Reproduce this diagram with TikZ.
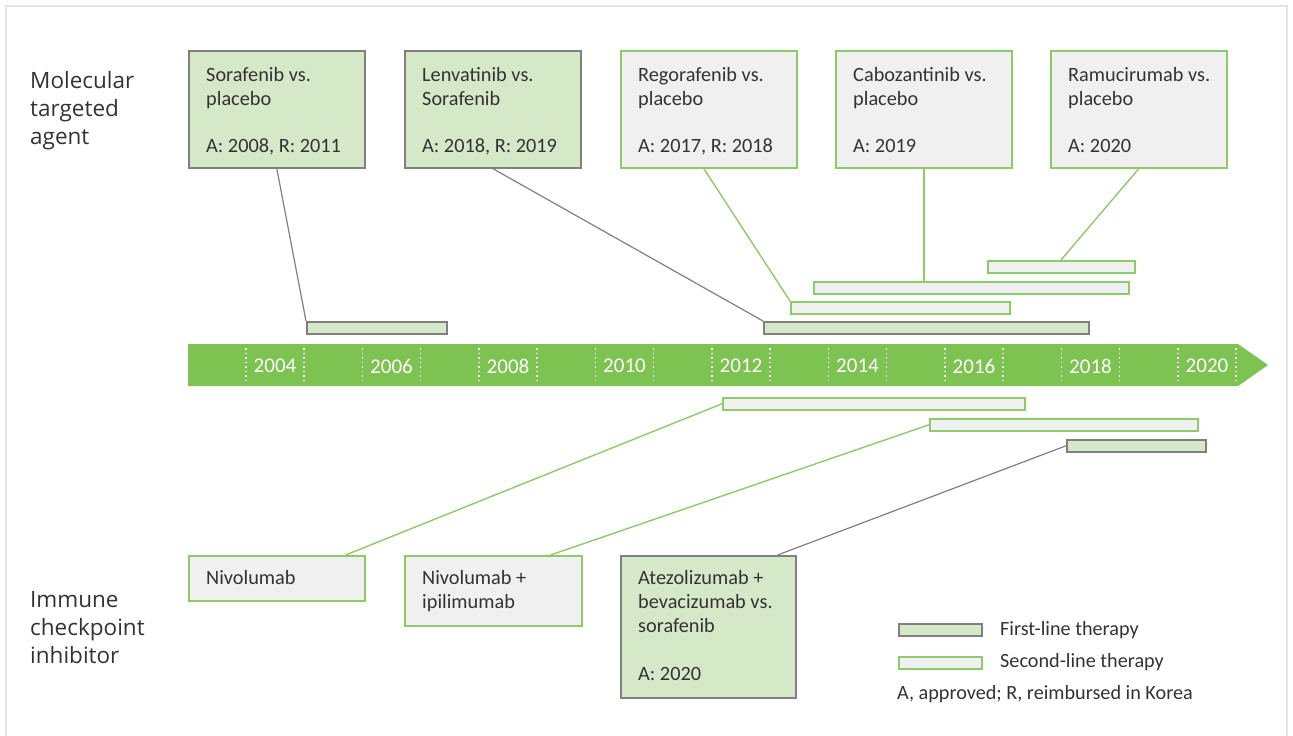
\documentclass[tikz,border=0pt]{standalone}
\usepackage{fontspec}
\setmainfont{Carlito}
\newfontfamily\labfont{Open Sans}
\usetikzlibrary{calc}
\definecolor{lgreen}{HTML}{D5E8C8}
\definecolor{lgray}{HTML}{F0F0F0}
\definecolor{bgreen}{HTML}{7DC352}
\definecolor{egreen}{HTML}{8CCB68}
\definecolor{dgray}{HTML}{808080}
\definecolor{txt}{HTML}{333333}
\definecolor{frame}{HTML}{E4E4E4}
\tikzset{
  firstbox/.style={draw=dgray, fill=lgreen, line width=1.6pt, anchor=north west, inner sep=0pt},
  secondbox/.style={draw=egreen, fill=lgray, line width=1.6pt, anchor=north west, inner sep=0pt},
  tx/.style={anchor=base west, inner sep=0pt, text=txt, font=\fontsize{20.3}{24}\selectfont},
  yr/.style={anchor=center, inner sep=0pt, text=white, font=\fontsize{21}{24}\selectfont},
  lab/.style={anchor=base west, inner sep=0pt, text=txt, font=\labfont\fontsize{22.5}{28}\selectfont},
  leg/.style={anchor=base west, inner sep=0pt, text=txt, font=\fontsize{20.2}{24}\selectfont},
  grayline/.style={draw=dgray, line width=1.2pt},
  greenline/.style={draw=egreen, line width=1.4pt},
  tick/.style={draw=white, line width=1.2pt, dash pattern=on 1.5pt off 3pt}
}
\begin{document}
\begin{tikzpicture}[x=1pt,y=-1pt]
\useasboundingbox (0,0) rectangle (1293,736);
\draw[frame, line width=1.2pt] (6,740) -- (6,6) -- (1287,6) -- (1287,740);

% left labels
\node[lab] (m1) at (30,88) {Molecular};
\node[lab] (m2) at (30,116) {targeted};
\node[lab] (m3) at (30,144) {agent};
\node[lab] (i1) at (30,607) {Immune};
\node[lab] (i2) at (30,635) {checkpoint};
\node[lab] (i3) at (30,663) {inhibitor};

% timeline
\fill[bgreen] (188,344) -- (1238,344) -- (1268,365) -- (1238,386) -- (188,386) -- cycle;
\foreach \y in {2004,2006,...,2020}{
  \pgfmathsetmacro{\cx}{275+(\y-2004)*58.25}
  \draw[tick] (\cx-29,348) -- (\cx-29,383);
  \draw[tick] (\cx+29,348) -- (\cx+29,383);
  \node[yr] (y\y) at (\cx,366) {\y};
}

% top boxes
\node[firstbox, minimum width=176pt, minimum height=117pt] (b1) at (188,50) {};
\node[firstbox, minimum width=176pt, minimum height=117pt] (b2) at (404,50) {};
\node[secondbox, minimum width=176pt, minimum height=117pt] (b3) at (620,50) {};
\node[secondbox, minimum width=176pt, minimum height=117pt] (b4) at (835,50) {};
\node[secondbox, minimum width=176pt, minimum height=117pt] (b5) at (1050,50) {};

\node[tx] (t1a) at (206,81) {Sorafenib vs.};
\node[tx] (t1b) at (206,105) {placebo};
\node[tx] (t1c) at (206,152) {A: 2008, R: 2011};
\node[tx] (t2a) at (422,81) {Lenvatinib vs.};
\node[tx] (t2b) at (422,105) {Sorafenib};
\node[tx] (t2c) at (422,152) {A: 2018, R: 2019};
\node[tx] (t3a) at (638,81) {Regorafenib vs.};
\node[tx] (t3b) at (638,105) {placebo};
\node[tx] (t3c) at (638,152) {A: 2017, R: 2018};
\node[tx] (t4a) at (853,81) {Cabozantinib vs.};
\node[tx] (t4b) at (853,105) {placebo};
\node[tx] (t4c) at (853,152) {A: 2019};
\node[tx] (t5a) at (1068,81) {Ramucirumab vs.};
\node[tx] (t5b) at (1068,105) {placebo};
\node[tx] (t5c) at (1068,152) {A: 2020};

% top bars
\node[firstbox, minimum width=140pt, minimum height=12pt] (r1) at (306,321) {};
\node[firstbox, minimum width=325pt, minimum height=12pt] (r2) at (763,321) {};
\node[secondbox, minimum width=219pt, minimum height=12pt] (r3) at (790,301) {};
\node[secondbox, minimum width=315pt, minimum height=12pt] (r4) at (813,281) {};
\node[secondbox, minimum width=147pt, minimum height=12pt] (r5) at (987,260) {};

% top connectors
\draw[grayline] (b1.south) -- (r1.north west);
\draw[grayline] (b2.south) -- (r2.north west);
\draw[greenline] ($(b3.south)+(-5,0)$) -- (r3.north west);
\draw[greenline] (b4.south) -- (b4.south |- r4.north);
\draw[greenline] (b5.south) -- ($(r5.north west)+(74,0)$);

% bottom bars
\node[secondbox, minimum width=302pt, minimum height=12pt] (s1) at (722,397) {};
\node[secondbox, minimum width=268pt, minimum height=12pt] (s2) at (929,418) {};
\node[firstbox, minimum width=139pt, minimum height=12pt] (s3) at (1066,439) {};

% bottom boxes
\node[secondbox, minimum width=176pt, minimum height=45pt] (n1) at (188,555) {};
\node[secondbox, minimum width=177pt, minimum height=70pt] (n2) at (404,555) {};
\node[firstbox, minimum width=175pt, minimum height=142pt] (n3) at (620,555) {};

\node[tx] (u1a) at (206,584) {Nivolumab};
\node[tx] (u2a) at (422,584) {Nivolumab +};
\node[tx] (u2b) at (422,608) {ipilimumab};
\node[tx] (u3a) at (638,584) {Atezolizumab +};
\node[tx] (u3b) at (638,608) {bevacizumab vs.};
\node[tx] (u3c) at (638,632) {sorafenib};
\node[tx] (u3d) at (638,680) {A: 2020};

% bottom connectors
\draw[greenline] ($(n1.north east)+(-20,0)$) -- (s1.west);
\draw[greenline] ($(n2.north east)+(-32,0)$) -- (s2.west);
\draw[grayline] ($(n3.north east)+(-19,0)$) -- (s3.west);

% legend
\node[firstbox, minimum width=83pt, minimum height=12pt] (l1) at (898,623) {};
\node[secondbox, minimum width=83pt, minimum height=12pt] (l2) at (898,656) {};
\node[leg] (lt1) at (1000,635) {First-line therapy};
\node[leg] (lt2) at (1000,667) {Second-line therapy};
\node[leg] (lt3) at (897,699) {A, approved; R, reimbursed in Korea};
\end{tikzpicture}
\end{document}
